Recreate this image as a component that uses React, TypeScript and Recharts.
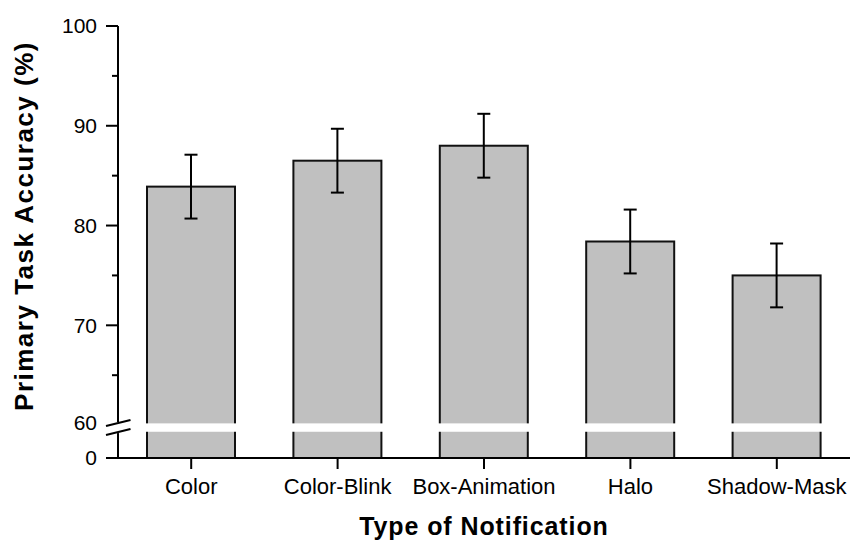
import { BarChart, Bar, XAxis, YAxis, ErrorBar } from 'recharts';

const categories = ['Color', 'Color-Blink', 'Box-Animation', 'Halo', 'Shadow-Mask'];
const accuracy = [83.9, 86.5, 88.0, 78.4, 75.0];
const errors = [3.2, 3.2, 3.2, 3.2, 3.2];
const majorTicks = [0, 60, 70, 80, 90, 100];
const minorTicks = [65, 75, 85, 95];

const FONT = '"Liberation Sans", Arial, sans-serif';

// broken axis: 0-60 squeezed into a short stub, 60-100 at 10 units per %
const STUB = 33;
const PER_PCT = 10;
const toUnits = (v: number) => (v <= 60 ? (v / 60) * STUB : STUB + (v - 60) * PER_PCT);
const GAP = [26.3, 34.7];

const rows = categories.map((name, i) => ({
  name,
  units: toUnits(accuracy[i]),
  err: errors[i] * PER_PCT,
}));
const tickUnits = [...majorTicks, ...minorTicks].map(toUnits).sort((a, b) => a - b);

function YTick(props: any) {
  const { x, y, payload } = props;
  const label = majorTicks.find((t) => Math.abs(toUnits(t) - payload.value) < 0.01);
  const text = (dy: number) => (
    <text x={x - 21} y={y + dy} dy="0.355em" textAnchor="end" fontSize={21} fill="#000" fontFamily={FONT}>
      {label}
    </text>
  );
  if (label === 60) {
    return (
      <g>
        <rect x={x - 3} y={y - 3} width={6} height={11} fill="#fff" />
        <line x1={x - 12} y1={y + 1} x2={x + 12.5} y2={y - 5} stroke="#000" strokeWidth={2} />
        <line x1={x - 12} y1={y + 10} x2={x + 12.5} y2={y + 4} stroke="#000" strokeWidth={2} />
        {text(-3)}
      </g>
    );
  }
  const len = label === undefined ? 6 : 12;
  return (
    <g>
      <line x1={x - len} y1={y} x2={x} y2={y} stroke="#000" strokeWidth={2} />
      {label !== undefined ? text(0) : null}
    </g>
  );
}

function BrokenBar(props: any) {
  const { x, y, width, height, payload } = props;
  if (!height) return null;
  const k = height / payload.units;
  const base = y + height;
  return (
    <g>
      <rect x={x} y={y} width={width} height={height} fill="#c0c0c0" stroke="#111" strokeWidth={2} />
      <rect x={x - 2} y={base - GAP[1] * k} width={width + 4} height={(GAP[1] - GAP[0]) * k} fill="#fff" />
    </g>
  );
}

function YTitle() {
  return (
    <text
      x={33}
      y={226}
      transform="rotate(-90, 33, 226)"
      textAnchor="middle"
      fontSize={26}
      fontWeight={700}
      letterSpacing={1.5}
      fill="#000"
      fontFamily={FONT}
    >
      Primary Task Accuracy (%)
    </text>
  );
}

function XTitle() {
  return (
    <text x={484} y={535} textAnchor="middle" fontSize={25} fontWeight={700} letterSpacing={0.9} fill="#000" fontFamily={FONT}>
      Type of Notification
    </text>
  );
}

export default function App() {
  return (
    <div style={{ position: 'absolute', left: 0, top: 0, background: '#fff', fontFamily: FONT }}>
      <BarChart width={850} height={540} data={rows} margin={{ top: 26, right: 0, bottom: 0, left: 0 }} barSize={88}>
        <XAxis
          dataKey="name"
          height={82}
          interval={0}
          tickSize={11}
          tickMargin={9}
          axisLine={{ stroke: '#000', strokeWidth: 2 }}
          tickLine={{ stroke: '#000', strokeWidth: 2 }}
          tick={{ fontSize: 22, fill: '#000', fontFamily: FONT }}
          label={<XTitle />}
        />
        <YAxis
          type="number"
          domain={[0, toUnits(100)]}
          ticks={tickUnits}
          interval={0}
          width={118}
          tickSize={0}
          tickMargin={0}
          tickLine={false}
          axisLine={{ stroke: '#000', strokeWidth: 2 }}
          tick={<YTick />}
          label={<YTitle />}
        />
        <Bar dataKey="units" shape={<BrokenBar />} isAnimationActive={false}>
          <ErrorBar dataKey="err" width={6.5} stroke="#000" strokeWidth={2} />
        </Bar>
      </BarChart>
    </div>
  );
}
